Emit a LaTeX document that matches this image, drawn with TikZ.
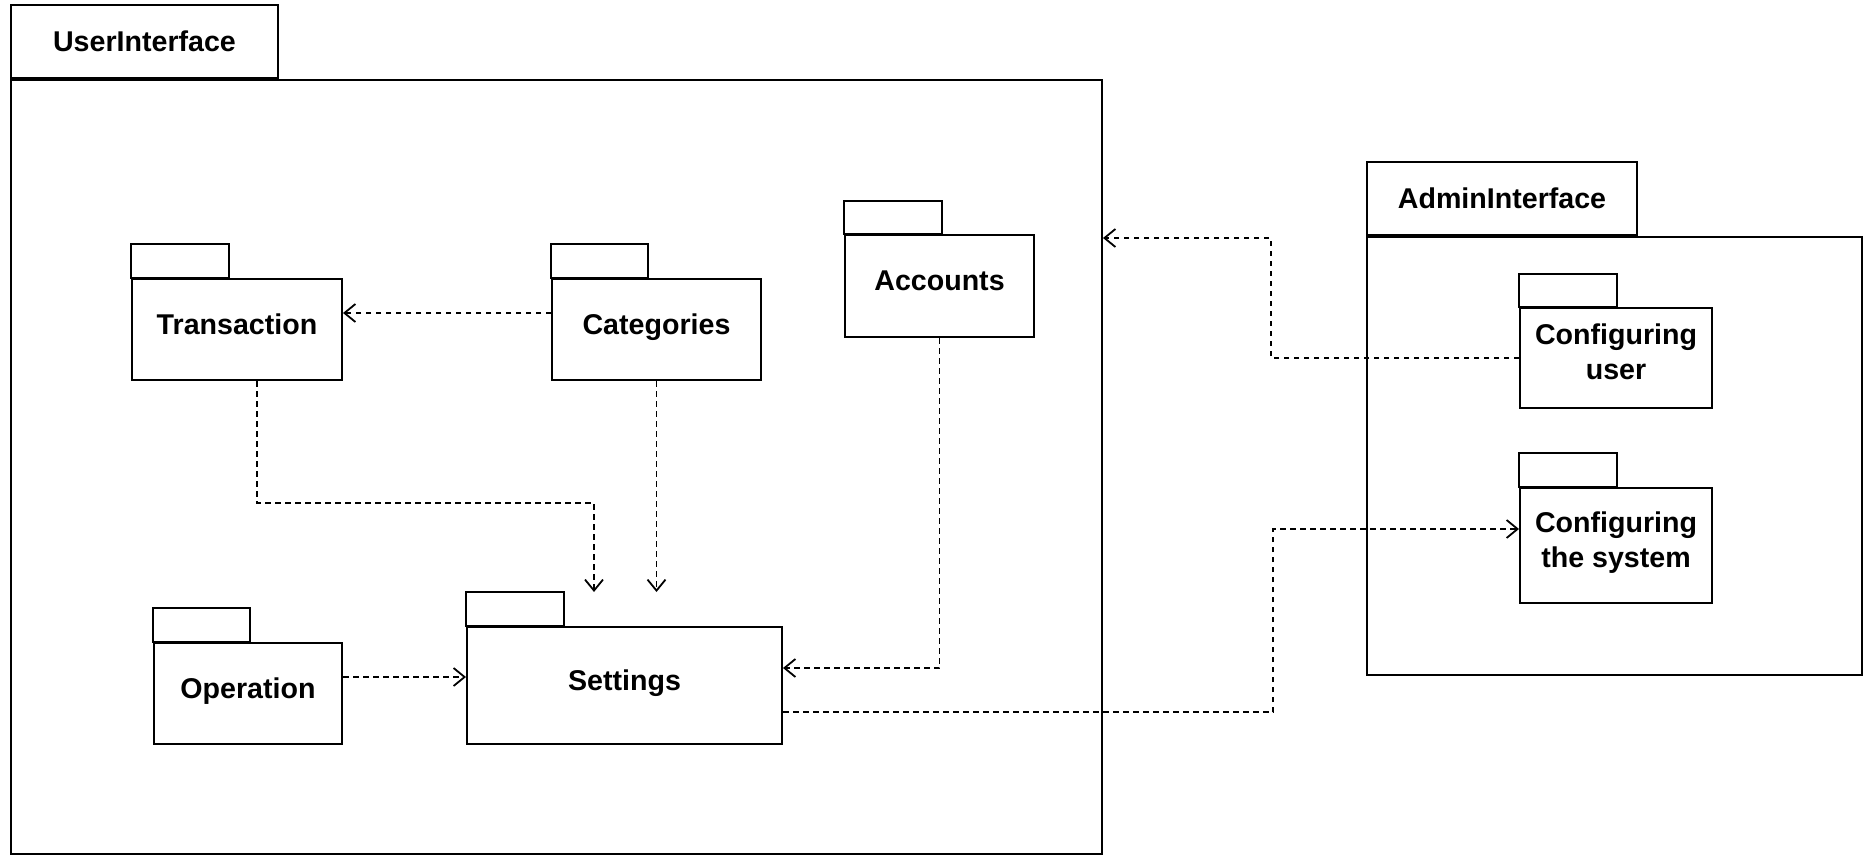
\documentclass[tikz,border=0pt]{standalone}
\usepackage{fontspec}
\setmainfont{Liberation Sans}
\usetikzlibrary{arrows.meta}
\newcommand\pkgfont{\fontsize{14.3}{17.5}\selectfont\bfseries}
\begin{document}
\begin{tikzpicture}[x=0.5pt,y=-0.5pt,
  box/.style={draw, line width=1pt, rectangle, inner sep=0pt, align=center, font=\pkgfont},
  pkgbox/.style={box, text height=10.5pt, text depth=6pt},
  lbl/.style={inner sep=0pt, align=center, font=\pkgfont},
  tabline/.style={draw, line width=1pt},
  dep/.style={line width=0.9pt, dash pattern=on 2.75pt off 2.25pt, -{Straight Barb[length=5.5pt,width=9pt]}},
]
\useasboundingbox (0,0) rectangle (1863,856);

% UserInterface package
\node[box, minimum width=545.5pt, minimum height=387pt, anchor=north west] (ui) at (10,79) {};
\node[box, minimum width=133.5pt, minimum height=36.5pt, anchor=south west] (uitab) at (10,79) {UserInterface};

% AdminInterface package
\node[box, minimum width=247.5pt, minimum height=219pt, anchor=north west] (adm) at (1366,236) {};
\node[box, minimum width=135pt, minimum height=36.5pt, anchor=south west] (admtab) at (1366,236) {AdminInterface};

% inner packages
\node[pkgbox, minimum width=105pt, minimum height=50.5pt, anchor=north west] (trans) at (131,278) {Transaction};
\draw[tabline] (trans.north west) rectangle ++(98,-34);

\node[pkgbox, minimum width=104.5pt, minimum height=50.5pt, anchor=north west] (cat) at (551,278) {Categories};
\draw[tabline] (cat.north west) rectangle ++(97,-34);

\node[pkgbox, minimum width=94.5pt, minimum height=51pt, anchor=north west] (acc) at (844,234) {Accounts};
\draw[tabline] (acc.north west) rectangle ++(98,-33);

\node[pkgbox, minimum width=94pt, minimum height=50.5pt, anchor=north west] (op) at (153,642) {Operation};
\draw[tabline] (op.north west) rectangle ++(97,-34);

\node[pkgbox, minimum width=157.5pt, minimum height=58.5pt, anchor=north west] (set) at (466,626) {Settings};
\draw[tabline] (set.north west) rectangle ++(98,-34);

\node[box, minimum width=96pt, minimum height=50pt, anchor=north west] (cu) at (1519,307) {};
\node[lbl] (cutext) at ([yshift=3.3pt]cu.center) {Configuring\\user};
\draw[tabline] (cu.north west) rectangle ++(98,-33);

\node[box, minimum width=96pt, minimum height=57.5pt, anchor=north west] (cs) at (1519,487) {};
\node[lbl] (cstext) at ([yshift=1.6pt]cs.center) {Configuring\\the system};
\draw[tabline] (cs.north west) rectangle ++(98,-34);

% helper coordinates
\coordinate (settop) at ([yshift=17pt]set.north);
\coordinate (catl) at ([yshift=8.25pt]cat.west);
\coordinate (opr) at ([yshift=8.25pt]op.east);
\coordinate (setr) at ([yshift=-13.25pt]set.east);
\coordinate (setru) at ([yshift=8.75pt]set.east);
\coordinate (csl) at ([yshift=8.25pt]cs.west);
\coordinate (uir) at ([yshift=114.5pt]ui.east);

% dependencies
\draw[dep] (catl) -- (catl -| trans.east);
\draw[dep] ([xshift=10pt]trans.south) -- ++(0,122) -| ([xshift=-15.25pt]settop);
\draw[dep] (cat.south) -- (cat.south |- settop);
\draw[dep] (acc.south) |- (setru);
\draw[dep] (opr) -- (opr -| set.west);
\draw[dep] (setr) -- ++(490,0) |- (csl);
\draw[dep] (cu.west) -- ++(-248,0) |- (uir);
\end{tikzpicture}
\end{document}
